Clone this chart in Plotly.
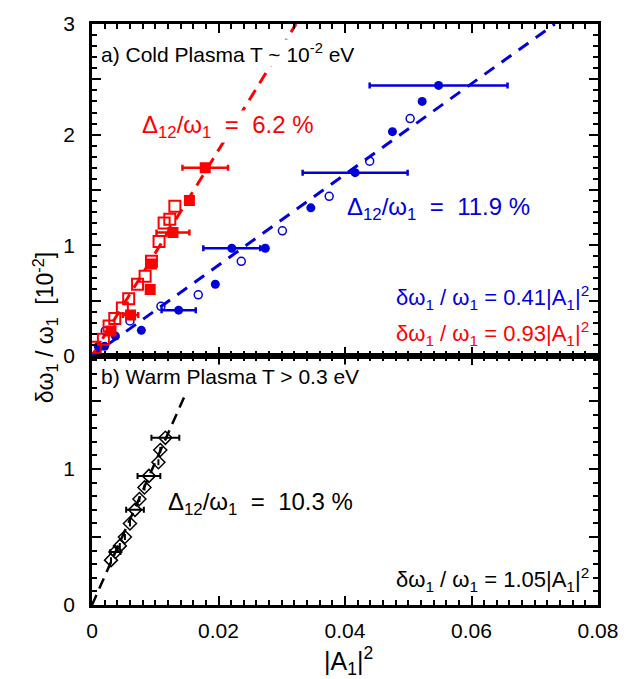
import plotly.graph_objects as go

# ---------------- data ----------------
# (a) cold plasma, delta omega/omega in units of 1e-2
red_filled_x = [0.0030, 0.0061, 0.0092, 0.0094, 0.0128, 0.0154, 0.0179]
red_filled_y = [0.225, 0.37, 0.60, 0.83, 1.115, 1.405, 1.70]
red_filled_err = [0, 0.0012, 0, 0, 0.0026, 0, 0.0036]

red_open_x = [0.0005, 0.0018, 0.0027, 0.0036, 0.0048, 0.0058, 0.0072, 0.0084,
              0.0094, 0.0106, 0.0114, 0.0123, 0.0131]
red_open_y = [0.077, 0.151, 0.27, 0.338, 0.433, 0.516, 0.647, 0.72,
              0.855, 1.033, 1.20, 1.235, 1.353]

blue_filled_x = [0.0010, 0.0020, 0.0037, 0.0078, 0.0137, 0.0195, 0.0221, 0.0274,
                 0.0346, 0.0416, 0.0475, 0.0522, 0.0548]
blue_filled_y = [0.086, 0.086, 0.18, 0.231, 0.413, 0.647, 0.973, 0.973,
                 1.338, 1.656, 2.027, 2.30, 2.445]
blue_filled_err = [0, 0, 0, 0, 0.0027, 0, 0.0045, 0, 0, 0.0083, 0, 0, 0.0109]

blue_open_x = [0.0021, 0.0060, 0.0109, 0.0168, 0.0236, 0.0301, 0.0375, 0.0439, 0.0503]
blue_open_y = [0.225, 0.315, 0.448, 0.552, 0.855, 1.13, 1.442, 1.76, 2.145]

red_slope = 93.0    # 0.93 |A1|^2  (in 1e-2 units)
blue_slope = 41.0   # 0.41 |A1|^2

# (b) warm plasma
warm_x = [0.0030, 0.0037, 0.0044, 0.0052, 0.0060, 0.0068, 0.0075, 0.0083,
          0.0090, 0.0105, 0.0108, 0.0116]
warm_y = [0.33, 0.39, 0.435, 0.50, 0.60, 0.70, 0.78, 0.865, 0.95, 1.05, 1.14, 1.23]
warm_err = [0, 0.0008, 0, 0, 0, 0.0014, 0, 0, 0.0018, 0, 0, 0.0022]
warm_slope = 105.0  # 1.05 |A1|^2
warm_fit_ymax = 1.55

top_ymax = 3.0
bot_ymax = 1.833
x_ticks = [0, 0.02, 0.04, 0.06, 0.08]
x_ticktext = ["0", "0.02", "0.04", "0.06", "0.08"]
top_ticks = [0, 0.5, 1, 1.5, 2, 2.5, 3]
top_ticktext = ["0", "", "1", "", "2", "", "3"]
bot_ticks = [0, 0.5, 1, 1.5]
bot_ticktext = ["0", "", "1", ""]

RED = "#ff0000"
BLUE = "#0000dd"
FONT = "Liberation Sans, Arial, Helvetica, sans-serif"

fig = go.Figure()

# fit lines
fig.add_trace(go.Scatter(x=[0, top_ymax / red_slope], y=[0, top_ymax], mode="lines",
                         line=dict(color=RED, width=3, dash="12px,8px"),
                         xaxis="x2", yaxis="y2", showlegend=False))
fig.add_trace(go.Scatter(x=[0, top_ymax / blue_slope], y=[0, top_ymax], mode="lines",
                         line=dict(color=BLUE, width=3, dash="12px,9px"),
                         xaxis="x2", yaxis="y2", showlegend=False))
fig.add_trace(go.Scatter(x=[0, warm_fit_ymax / warm_slope], y=[0, warm_fit_ymax], mode="lines",
                         line=dict(color="black", width=2.5, dash="11px,7px"),
                         xaxis="x", yaxis="y", showlegend=False))

# cold data
fig.add_trace(go.Scatter(x=blue_open_x, y=blue_open_y, mode="markers",
                         marker=dict(symbol="circle-open", size=8, color=BLUE, line=dict(width=1.5)),
                         xaxis="x2", yaxis="y2", showlegend=False))
fig.add_trace(go.Scatter(x=blue_filled_x, y=blue_filled_y, mode="markers",
                         marker=dict(symbol="circle", size=9, color=BLUE),
                         error_x=dict(type="data", array=blue_filled_err, color=BLUE, thickness=2.5, width=3),
                         xaxis="x2", yaxis="y2", showlegend=False))
fig.add_trace(go.Scatter(x=red_open_x, y=red_open_y, mode="markers",
                         marker=dict(symbol="square-open", size=11, color=RED, line=dict(width=2)),
                         xaxis="x2", yaxis="y2", showlegend=False))
fig.add_trace(go.Scatter(x=red_filled_x, y=red_filled_y, mode="markers",
                         marker=dict(symbol="square", size=11, color=RED),
                         error_x=dict(type="data", array=red_filled_err, color=RED, thickness=2.5, width=3),
                         xaxis="x2", yaxis="y2", showlegend=False))

# warm data
fig.add_trace(go.Scatter(x=warm_x, y=warm_y, mode="markers",
                         marker=dict(symbol="diamond-open", size=10, color="black", line=dict(width=1.5)),
                         error_x=dict(type="data", array=warm_err, color="black", thickness=2, width=3),
                         xaxis="x", yaxis="y", showlegend=False))

axis_common = dict(showline=True, linecolor="black", linewidth=2.5, mirror="allticks",
                   ticks="inside", ticklen=9, tickwidth=2, tickcolor="black",
                   showgrid=False, zeroline=False,
                   tickfont=dict(family=FONT, size=21, color="black"))

split = 253 / 590

fig.update_layout(
    width=634, height=679,
    margin=dict(l=92, r=36, t=15, b=74),
    paper_bgcolor="white", plot_bgcolor="white",
    font=dict(family=FONT, color="black", size=20),
    xaxis=dict(domain=[0, 1], anchor="y", range=[0, 0.08], tickvals=x_ticks, ticktext=x_ticktext,
               minor=dict(dtick=0.002, ticklen=5, tickwidth=1.5, tickcolor="black", ticks="inside"),
               ticklabelstandoff=5, **axis_common),
    xaxis2=dict(domain=[0, 1], anchor="y2", matches="x", range=[0, 0.08], tickvals=x_ticks,
                showticklabels=False,
                minor=dict(dtick=0.002, ticklen=5, tickwidth=1.5, tickcolor="black", ticks="inside"),
                **axis_common),
    yaxis=dict(domain=[0, split], anchor="x", range=[0, bot_ymax], tickvals=bot_ticks, ticktext=bot_ticktext,
               minor=dict(dtick=0.1, ticklen=5, tickwidth=1.5, tickcolor="black", ticks="inside"),
               ticklabelstandoff=10, **axis_common),
    yaxis2=dict(domain=[split, 1], anchor="x2", range=[0, top_ymax], tickvals=top_ticks, ticktext=top_ticktext,
                minor=dict(dtick=0.1, ticklen=5, tickwidth=1.5, tickcolor="black", ticks="inside"),
                ticklabelstandoff=10, **axis_common),
)

ann = []
def add(text, x, y, xref, yref, color="black", xanchor="left", yanchor="middle", size=20, bg="white", **kw):
    ann.append(dict(text=text, x=x, y=y, xref=xref, yref=yref, showarrow=False,
                    xanchor=xanchor, yanchor=yanchor, bgcolor=bg,
                    font=dict(family=FONT, size=size, color=color), borderpad=0, **kw))

add("a) Cold Plasma T ~ 10<sup>-2</sup> eV", 0.0013, 2.74, "x2", "y2", size=21)
add("Δ<sub>12</sub>/ω<sub>1</sub>  =  6.2 %", 0.0077, 2.07, "x2", "y2", color=RED, size=24)
add("Δ<sub>12</sub>/ω<sub>1</sub>  =  11.9 %", 0.0402, 1.33, "x2", "y2", color=BLUE, size=24)
add("δω<sub>1</sub> / ω<sub>1</sub> = 0.41|A<sub>1</sub>|<sup>2</sup>", 0.0787, 0.53, "x2", "y2",
    color=BLUE, xanchor="right", bg="rgba(0,0,0,0)", size=22)
add("δω<sub>1</sub> / ω<sub>1</sub> = 0.93|A<sub>1</sub>|<sup>2</sup>", 0.0787, 0.205, "x2", "y2",
    color=RED, xanchor="right", bg="rgba(0,0,0,0)", size=22)
add("b) Warm Plasma T > 0.3 eV", 0.0013, 1.68, "x", "y", size=21)
add("Δ<sub>12</sub>/ω<sub>1</sub>  =  10.3 %", 0.0118, 0.75, "x", "y", size=24)
add("δω<sub>1</sub> / ω<sub>1</sub> = 1.05|A<sub>1</sub>|<sup>2</sup>", 0.0787, 0.19, "x", "y",
    xanchor="right", bg="rgba(0,0,0,0)", size=22)
# axis titles
add("δω<sub>1</sub> / ω<sub>1</sub>  [10<sup>-2</sup>]", -0.093, 0.478, "paper", "paper",
    xanchor="center", size=23, bg="rgba(0,0,0,0)", textangle=-90)
add("|A<sub>1</sub>|<sup>2</sup>", 0.506, -0.097, "paper", "paper",
    xanchor="center", size=25, bg="rgba(0,0,0,0)")
fig.update_layout(annotations=ann)

fig.write_html("out.html")
